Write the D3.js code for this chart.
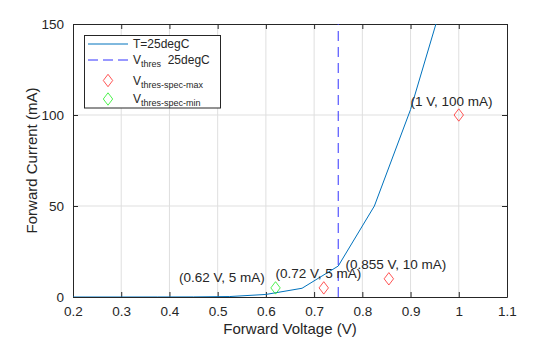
<!DOCTYPE html>
<html>
<head>
<meta charset="utf-8">
<script src="https://cdn.jsdelivr.net/npm/d3@7"></script>
<style>
  body { margin: 0; background: #fff; }
  svg text { font-family: "Liberation Sans", Arial, sans-serif; fill: #262626; }
</style>
</head>
<body>
<div id="chart"></div>
<script>
var width = 560;
var height = 337;

// plot area
var margin = {left: 73, right: 53, top: 24, bottom: 40};

// diode I-V curve at 25 degC (V, mA)
var voltage = [0.15, 0.225, 0.3, 0.375, 0.45, 0.525, 0.6, 0.675, 0.75, 0.825, 0.9, 0.975];
var current = [0, 0, 0, 0.01, 0.05, 0.25, 1.4, 4.8, 17, 50, 103, 170];

// threshold voltage
var vThres = 0.75;

// spec points
var specMaxV = [0.72, 0.855, 1];
var specMaxI = [5, 10, 100];
var specMinV = [0.62];
var specMinI = [5];

// point labels and where they sit
var labelText = ["(0.62 V, 5 mA)", "(0.72 V, 5 mA)", "(0.855 V, 10 mA)", "(1 V, 100 mA)"];
var labelX = [0.42, 0.62, 0.765, 0.9];
var labelY = [11, 13, 18, 107.3];

var xTicks = [0.2, 0.3, 0.4, 0.5, 0.6, 0.7, 0.8, 0.9, 1, 1.1];
var yTicks = [0, 50, 100, 150];

var svg = d3.select("#chart").append("svg")
  .attr("width", width)
  .attr("height", height);

var x = d3.scaleLinear().domain([0.2, 1.1]).range([margin.left, width - margin.right]);
var y = d3.scaleLinear().domain([0, 150]).range([height - margin.bottom, margin.top]);

var x0 = x.range()[0], x1 = x.range()[1];
var y0 = y.range()[0], y1 = y.range()[1];

svg.append("defs").append("clipPath").attr("id", "plotClip")
  .append("rect")
  .attr("x", x0).attr("y", y1)
  .attr("width", x1 - x0).attr("height", y0 - y1);

// grid
var grid = svg.append("g");
grid.selectAll(".gx").data(xTicks.slice(1, -1)).enter().append("line")
  .attr("x1", d => x(d)).attr("x2", d => x(d))
  .attr("y1", y0).attr("y2", y1)
  .attr("stroke", "#dfdfdf").attr("stroke-width", 1);
grid.selectAll(".gy").data(yTicks.slice(1, -1)).enter().append("line")
  .attr("x1", x0).attr("x2", x1)
  .attr("y1", d => y(d)).attr("y2", d => y(d))
  .attr("stroke", "#dfdfdf").attr("stroke-width", 1);

// axes (ticks point inward like matlab)
var fmt = d => String(+d.toFixed(2));
svg.append("g")
  .attr("transform", "translate(0," + y0 + ")")
  .call(d3.axisBottom(x).tickValues(xTicks).tickFormat(fmt).tickSizeInner(-5).tickSizeOuter(0).tickPadding(9))
  .call(g => g.selectAll("text").attr("font-size", "13.5px"));
svg.append("g")
  .attr("transform", "translate(0," + y1 + ")")
  .call(d3.axisTop(x).tickValues(xTicks).tickFormat("").tickSizeInner(-5).tickSizeOuter(0));
svg.append("g")
  .attr("transform", "translate(" + x0 + ",0)")
  .call(d3.axisLeft(y).tickValues(yTicks).tickSizeInner(-5).tickSizeOuter(0).tickPadding(9))
  .call(g => g.selectAll("text").attr("font-size", "13.5px"));
svg.append("g")
  .attr("transform", "translate(" + x1 + ",0)")
  .call(d3.axisRight(y).tickValues(yTicks).tickFormat("").tickSizeInner(-5).tickSizeOuter(0));

svg.selectAll(".domain, .tick line").attr("stroke", "#262626");
svg.selectAll(".tick text").attr("fill", "#262626").attr("font-family", "Liberation Sans, Arial, sans-serif");

// axis titles
svg.append("text")
  .attr("x", (x0 + x1) / 2).attr("y", 334)
  .attr("text-anchor", "middle").attr("font-size", "15px")
  .text("Forward Voltage (V)");
svg.append("text")
  .attr("transform", "translate(37," + (y0 + y1) / 2 + ")rotate(-90)")
  .attr("text-anchor", "middle").attr("font-size", "15px")
  .text("Forward Current (mA)");

var plot = svg.append("g").attr("clip-path", "url(#plotClip)");

var pts = voltage.map((v, i) => [v, current[i]]);
plot.append("path")
  .datum(pts)
  .attr("fill", "none")
  .attr("stroke", "#0072bd")
  .attr("stroke-width", 1)
  .attr("d", d3.line().x(d => x(d[0])).y(d => y(d[1])));

// threshold line, drawn from the bottom up
plot.append("line")
  .attr("x1", x(vThres)).attr("x2", x(vThres))
  .attr("y1", y(0)).attr("y2", y(150))
  .attr("stroke", "#3333ff").attr("stroke-width", 1)
  .attr("stroke-dasharray", "10,6");

function diamond(sel, color) {
  sel.attr("d", "M0,-6.2L4.7,0L0,6.2L-4.7,0Z")
    .attr("fill", "none")
    .attr("stroke", color)
    .attr("stroke-width", 0.8);
}

plot.selectAll(".smax").data(specMaxV).enter().append("path")
  .attr("transform", (d, i) => "translate(" + x(d) + "," + y(specMaxI[i]) + ")")
  .call(diamond, "#ff2a2a");
plot.selectAll(".smin").data(specMinV).enter().append("path")
  .attr("transform", (d, i) => "translate(" + x(d) + "," + y(specMinI[i]) + ")")
  .call(diamond, "#22ee22");

// point labels
svg.selectAll(".lbl").data(labelText).enter().append("text")
  .attr("x", (d, i) => x(labelX[i]))
  .attr("y", (d, i) => y(labelY[i]))
  .attr("dy", "0.34em")
  .attr("font-size", "13.5px")
  .text(d => d);

// legend
var leg = svg.append("g");
leg.append("rect")
  .attr("x", 84.5).attr("y", 35.5).attr("width", 136).attr("height", 72.5)
  .attr("fill", "#fff").attr("stroke", "#262626").attr("stroke-width", 1);

leg.append("line").attr("x1", 88).attr("x2", 128).attr("y1", 44).attr("y2", 44)
  .attr("stroke", "#0072bd").attr("stroke-width", 1);
leg.append("line").attr("x1", 88).attr("x2", 128).attr("y1", 60).attr("y2", 60)
  .attr("stroke", "#3333ff").attr("stroke-width", 1).attr("stroke-dasharray", "10,5");
leg.append("path").attr("transform", "translate(108,80.5)").call(diamond, "#ff2a2a");
leg.append("path").attr("transform", "translate(108,99)").call(diamond, "#22ee22");

leg.append("text").attr("x", 133).attr("y", 48.3).attr("font-size", "12px").text("T=25degC");

function subLabel(yPos, sub, rest) {
  var t = leg.append("text").attr("x", 133).attr("y", yPos).attr("font-size", "12px");
  t.append("tspan").text("V");
  t.append("tspan").attr("dy", 3).attr("font-size", "9px").text(sub);
  if (rest) t.append("tspan").attr("dy", -3).text("\u00a0\u00a0" + rest);
}
subLabel(64.3, "thres", "25degC");
subLabel(84.5, "thres-spec-max");
subLabel(103, "thres-spec-min");
</script>
</body>
</html>
